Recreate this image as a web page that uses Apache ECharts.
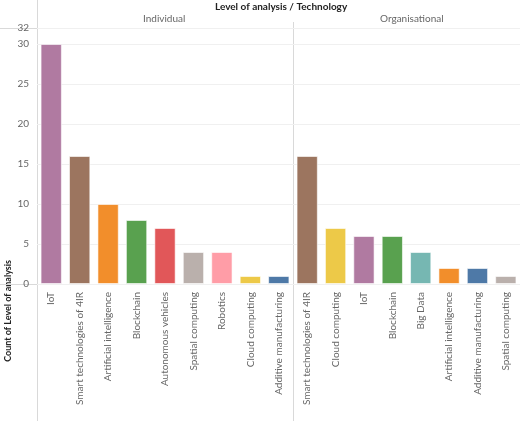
<!DOCTYPE html><html><head><meta charset="utf-8"><script src="https://cdn.jsdelivr.net/npm/echarts@6/dist/echarts.min.js"></script>
<style>body{margin:0}#c{width:520px;height:421px}</style></head><body><div id="c"></div><script>
const indCats=["IoT","Smart technologies of 4IR","Artificial intelligence","Blockchain","Autonomous vehicles","Spatial computing","Robotics","Cloud computing","Additive manufacturing"];
const indVals=[30,16,10,8,7,4,4,1,1];
const orgCats=["Smart technologies of 4IR","Cloud computing","IoT","Blockchain","Big Data","Artificial intelligence","Additive manufacturing","Spatial computing"];
const orgVals=[16,7,6,6,4,2,2,1];
const colorMap={"IoT":"#B07AA1","Smart technologies of 4IR":"#9C755F","Artificial intelligence":"#F28E2B","Blockchain":"#59A14F","Autonomous vehicles":"#E15759","Spatial computing":"#BAB0AC","Robotics":"#FF9DA7","Cloud computing":"#EDC948","Additive manufacturing":"#4E79A7","Big Data":"#76B7B2"};
const c=echarts.init(document.getElementById('c'));
const txt='#666';
function xa(i,cats){return{type:'category',gridIndex:i,data:cats,axisTick:{show:false},axisLine:{show:false},
 axisLabel:{rotate:90,color:txt,fontSize:10,fontFamily:'Lato',interval:0,margin:8}};}
function ya(i){return{type:'value',gridIndex:i,min:0,max:32,interval:5,splitLine:{lineStyle:{color:'#f0f0f0'}},
 axisLabel:{show:i===0,color:txt,fontSize:10,fontFamily:'Lato',margin:8},axisLine:{show:false},axisTick:{show:false}};}
function ser(i,cats,vals){return{type:'bar',xAxisIndex:i,yAxisIndex:i,barWidth:'75%',
 data:vals.map((v,k)=>({value:v,itemStyle:{color:colorMap[cats[k]],borderColor:'rgba(255,255,255,0.6)',borderWidth:1}}))};}
const L='#d9d9d9';
c.setOption({animation:false,
 grid:[{left:37,width:256,top:28,bottom:137},{left:293,width:227,top:28,bottom:137}],
 xAxis:[xa(0,indCats),xa(1,orgCats)],yAxis:[ya(0),ya(1)],
 series:[ser(0,indCats,indVals),ser(1,orgCats,orgVals)],
 graphic:[
  {type:'text',left:'center',top:2,style:{text:'Level of analysis / Technology',fill:'#222',font:'bold 10px Lato',x:0},position:[0,0],left:215},
  {type:'text',left:143,top:14,style:{text:'Individual',fill:txt,font:'10px Lato'}},
  {type:'text',left:380,top:14,style:{text:'Organisational',fill:txt,font:'10px Lato'}},
  {type:'text',left:4,top:260,rotation:Math.PI/2,style:{text:'Count of Level of analysis',fill:'#222',font:'bold 9px Lato'},x:6,y:208},
  {type:'line',shape:{x1:0,y1:28.5,x2:520,y2:28.5},style:{stroke:L}},
  {type:'line',shape:{x1:0,y1:284.5,x2:520,y2:284.5},style:{stroke:L}},
  {type:'line',shape:{x1:37.5,y1:0,x2:37.5,y2:421},style:{stroke:L}},
  {type:'line',shape:{x1:293.5,y1:22,x2:293.5,y2:421},style:{stroke:L}}
 ]});
</script></body></html>
